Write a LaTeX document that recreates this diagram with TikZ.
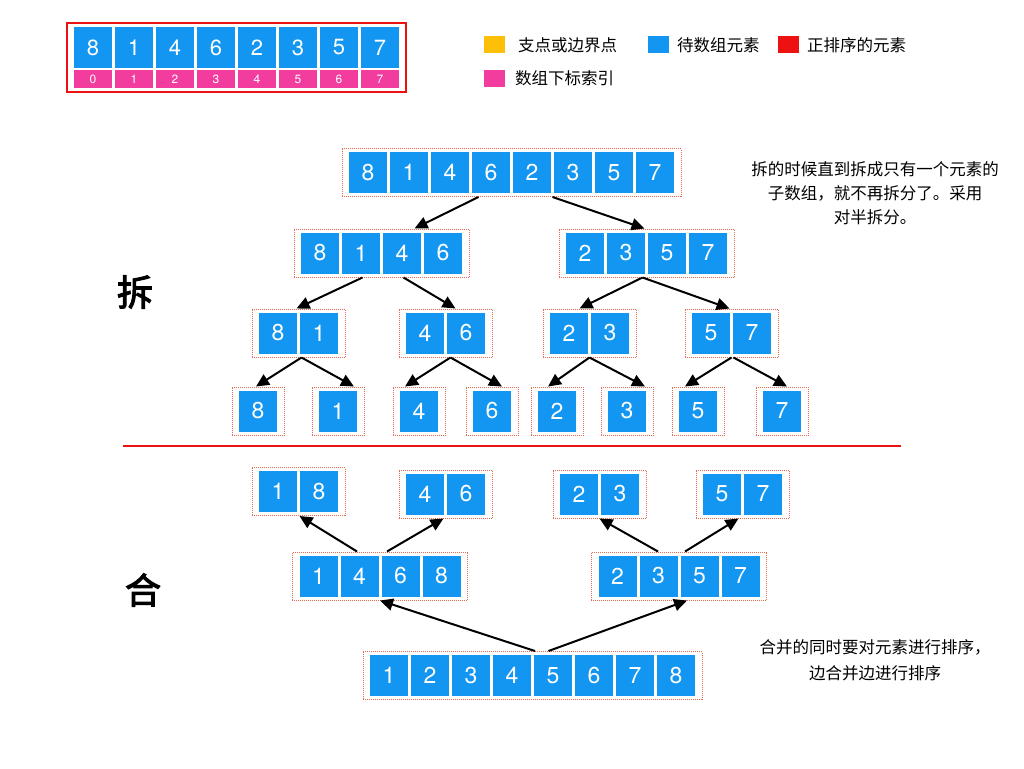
\documentclass[tikz,border=0pt]{standalone}
\usepackage{fontspec}
\setmainfont{TeX Gyre Heros}
\newfontfamily\cjk{Noto Sans CJK SC}
\newfontfamily\cjkbold[FakeBold=3]{Noto Sans CJK SC}
\usetikzlibrary{arrows.meta,fit}
\definecolor{cellblue}{HTML}{1396F1}
\definecolor{idxpink}{HTML}{F23D9E}
\definecolor{pivotyellow}{HTML}{FDBF08}
\definecolor{sortred}{HTML}{EE1111}
\definecolor{dotred}{HTML}{E66A4F}
\tikzset{
  cell/.style={fill=cellblue, text=white, minimum width=38pt, minimum height=41pt, inner sep=0pt, font=\fontsize{23}{23}\selectfont},
  idx/.style={fill=idxpink, text=white, minimum width=38pt, minimum height=18pt, inner sep=0pt, font=\fontsize{12}{12}\selectfont},
  grp/.style={draw=dotred, line width=0.6pt, dash pattern=on 0.6pt off 1.4pt, inner xsep=7pt, inner ysep=3.5pt},
  swatch/.style={minimum width=21pt, minimum height=17pt, inner sep=0pt},
  legend/.style={anchor=west, inner sep=0pt, font=\cjk\fontsize{16.5}{20}\selectfont},
  note/.style={align=center, inner sep=0pt, font=\cjk\fontsize{16.5}{24}\selectfont},
  arr/.style={-{Triangle[length=13pt,width=12pt]}, line width=2pt}
}
\newcommand{\cellrow}[5]{%
  \foreach \v [count=\i] in {#5} {\node[cell] (#1\i) at ({#2+41*(\i-1)},#3) {\v};}
  \node[grp, fit=(#11) (#1#4)] (#1) {};
}
\begin{document}
\begin{tikzpicture}[x=1pt, y=-1pt]
\useasboundingbox (0,0) rectangle (1024,768);

\foreach \v [count=\i from 0] in {8,1,4,6,2,3,5,7} {
  \node[cell, font=\fontsize{22}{22}\selectfont] (k\i) at ({93+41*\i},47.5) {\v};
  \node[idx] (x\i) at ({93+41*\i},79) {\i};
}
\node[draw=sortred, line width=1.6pt, inner xsep=7pt, inner ysep=4pt, fit=(k0) (x7)] (key) {};

\node[swatch, fill=pivotyellow] (ky) at (494.5,44.5) {};
\node[legend] (ty) at (518,45) {支点或边界点};
\node[swatch, fill=cellblue] (kb) at (658.5,44.5) {};
\node[legend] (tb) at (677,45) {待数组元素};
\node[swatch, fill=sortred] (kr) at (788.5,44.5) {};
\node[legend] (tr) at (807,45) {正排序的元素};
\node[swatch, fill=idxpink] (kp) at (494.5,78) {};
\node[legend] (tp) at (515,78.5) {数组下标索引};

\node[font=\cjkbold\fontsize{36}{36}\selectfont] (split) at (135,292) {拆};
\node[font=\cjkbold\fontsize{36}{36}\selectfont] (merge) at (143,590) {合};

\node[note] (splitnote) at (875,193) {拆的时候直到拆成只有一个元素的\\子数组，就不再拆分了。采用\\对半拆分。};
\node[note, font=\cjk\fontsize{16.5}{26}\selectfont] (mergenote) at (875,660) {合并的同时要对元素进行排序，\\边合并边进行排序};

\draw[sortred, line width=1.3pt] (123,446) -- (901,446);

\cellrow{s0}{368}{172.5}{8}{8,1,4,6,2,3,5,7}
\cellrow{s1a}{320}{253}{4}{8,1,4,6}
\cellrow{s1b}{585}{253}{4}{2,3,5,7}
\cellrow{s2a}{278}{333}{2}{8,1}
\cellrow{s2b}{425}{333}{2}{4,6}
\cellrow{s2c}{569}{333}{2}{2,3}
\cellrow{s2d}{711}{333}{2}{5,7}
\cellrow{s3a}{258}{411}{1}{8}
\cellrow{s3b}{338}{411}{1}{1}
\cellrow{s3c}{419}{411}{1}{4}
\cellrow{s3d}{492}{411}{1}{6}
\cellrow{s3e}{557}{411}{1}{2}
\cellrow{s3f}{627}{411}{1}{3}
\cellrow{s3g}{698}{411}{1}{5}
\cellrow{s3h}{782}{411}{1}{7}

\cellrow{m2a}{278}{491.5}{2}{1,8}
\cellrow{m2b}{425}{494}{2}{4,6}
\cellrow{m2c}{579}{494}{2}{2,3}
\cellrow{m2d}{722}{494}{2}{5,7}
\cellrow{m1a}{318.5}{576}{4}{1,4,6,8}
\cellrow{m1b}{617.5}{576}{4}{2,3,5,7}
\cellrow{m0}{389}{675.5}{8}{1,2,3,4,5,6,7,8}

\draw[arr] ([xshift=-33pt]s0.south) -- ([xshift=33pt]s1a.north);
\draw[arr] ([xshift=41pt]s0.south) -- ([xshift=-2pt]s1b.north);
\draw[arr] ([xshift=-19pt]s1a.south) -- ([xshift=-2pt]s2a.north);
\draw[arr] ([xshift=22pt]s1a.south) -- ([xshift=10pt]s2b.north);
\draw[arr] ([xshift=-4pt]s1b.south) -- ([xshift=-10pt]s2c.north);
\draw[arr] ([xshift=-4pt]s1b.south) -- ([xshift=-2pt]s2d.north);
\draw[arr] ([xshift=3pt]s2a.south) -- ([xshift=-2pt]s3a.north);
\draw[arr] ([xshift=3pt]s2a.south) -- ([xshift=16pt]s3b.north);
\draw[arr] ([xshift=5pt]s2b.south) -- ([xshift=-14pt]s3c.north);
\draw[arr] ([xshift=5pt]s2b.south) -- ([xshift=10pt]s3d.north);
\draw[arr] (s2c.south) -- ([xshift=-9pt]s3e.north);
\draw[arr] (s2c.south) -- ([xshift=18pt]s3f.north);
\draw[arr] (s2d.south) -- ([xshift=-13pt]s3g.north);
\draw[arr] ([xshift=2pt]s2d.south) -- ([xshift=5pt]s3h.north);

\draw[arr] ([xshift=2.5pt]m0.north) -- (m1a.south);
\draw[arr] ([xshift=16pt]m0.north) -- ([xshift=8pt]m1b.south);
\draw[arr] ([xshift=-23pt]m1a.north) -- ([xshift=1pt]m2a.south);
\draw[arr] ([xshift=7pt]m1a.north) -- ([xshift=-2pt]m2b.south);
\draw[arr] ([xshift=-21pt]m1b.north) -- (m2c.south);
\draw[arr] ([xshift=6pt]m1b.north) -- ([xshift=-4pt]m2d.south);
\end{tikzpicture}
\end{document}
